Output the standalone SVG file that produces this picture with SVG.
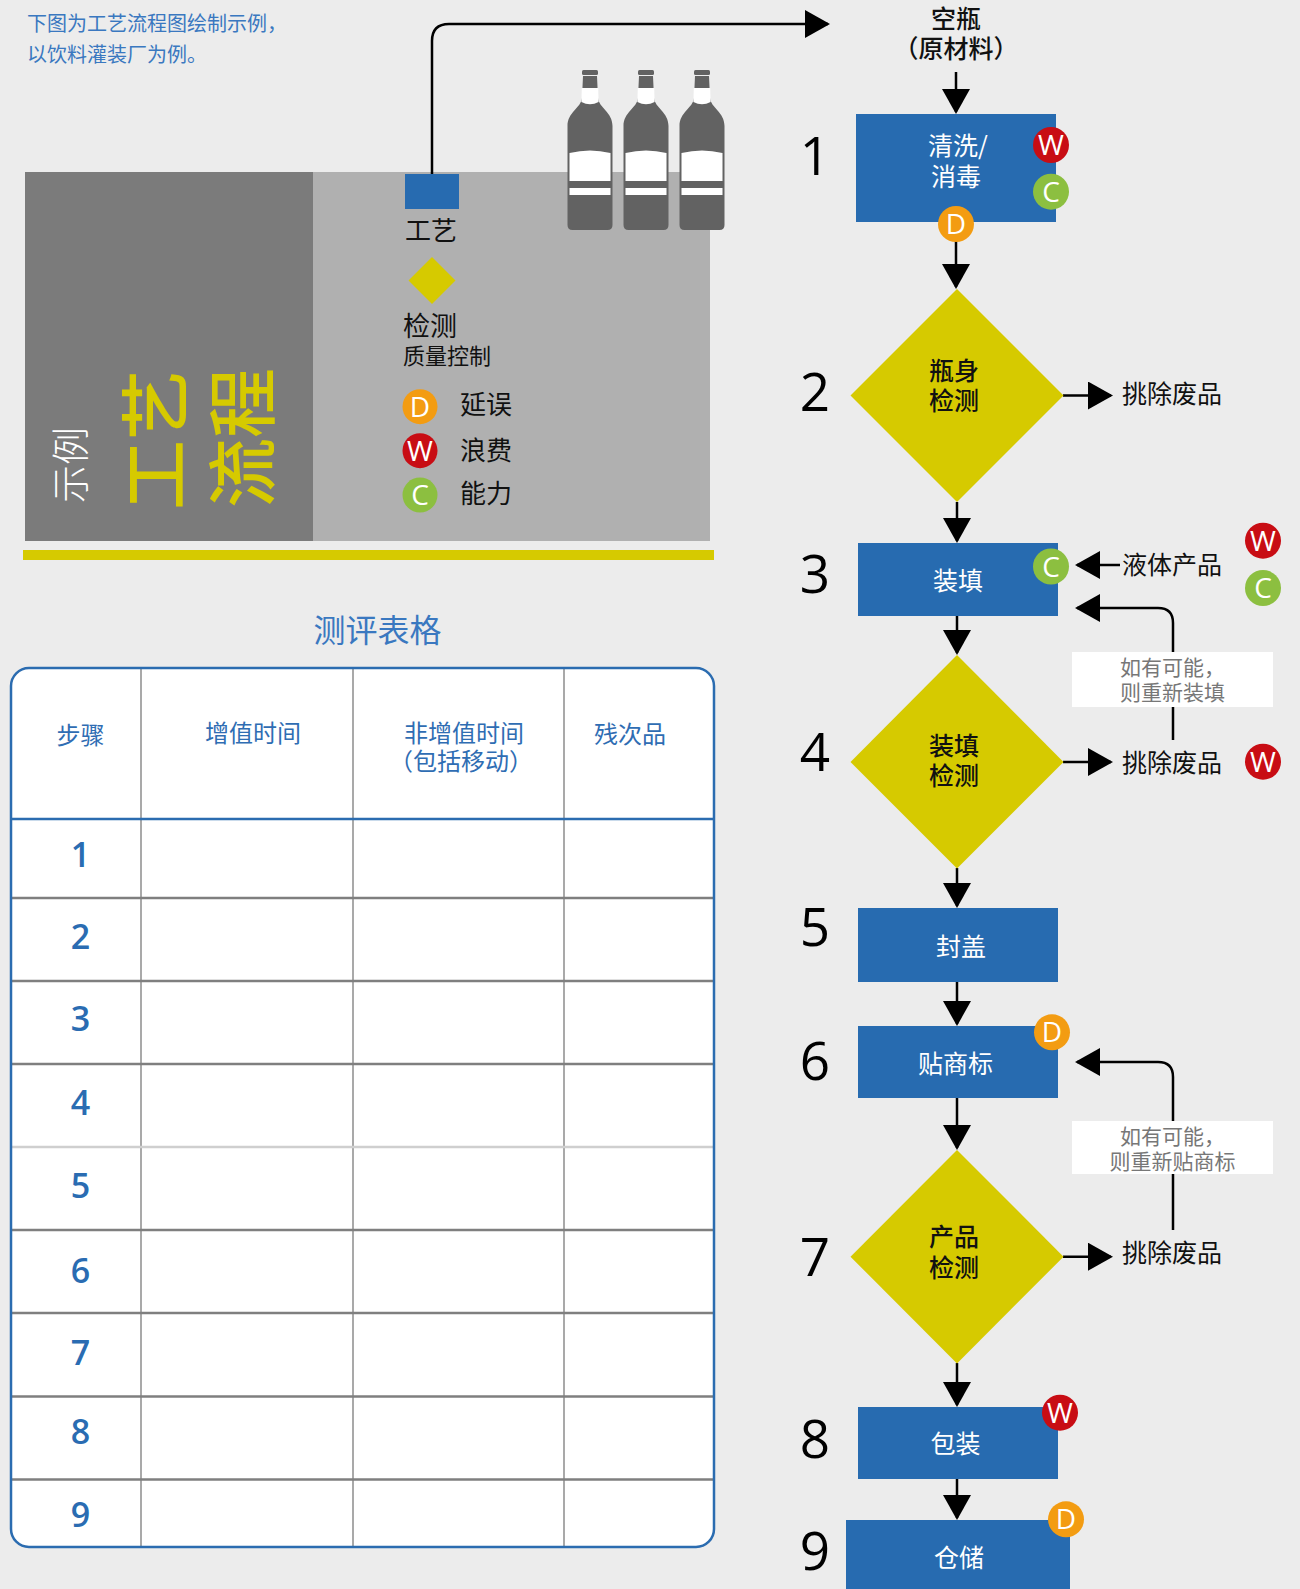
<svg xmlns="http://www.w3.org/2000/svg" width="1300" height="1589" viewBox="0 0 1300 1589">
  <defs>
    <style>
      .cjk{font-family:"Noto Sans CJK SC","Noto Sans",sans-serif}
      .lat{font-family:"Open Sans","Noto Sans",sans-serif}
      .box{fill:#276bb0}
      .dia{fill:#d6ca00}
      .bt{fill:#ffffff;font-size:25px;text-anchor:middle}
      .dt{fill:#111111;font-size:25px;font-weight:500;text-anchor:middle}
      .lbl{fill:#111111;font-size:25px}
      .num{fill:#000000;font-size:53px;text-anchor:middle}
      .conn{fill:none;stroke:#000000;stroke-width:2.5}
      .badge text{fill:#ffffff;font-size:28px;text-anchor:middle}
      .bW{fill:#c80d14}
      .bC{fill:#8cbf40}
      .bD{fill:#f39c12}
      .note-bg{fill:#ffffff}
      .note{fill:#777777;font-size:21px;text-anchor:middle}
      .th{fill:#2f6db3;font-size:24px;text-anchor:middle}
      .rn{fill:#2a6cb2;font-size:34px;font-weight:600;text-anchor:middle}
      .rowline{stroke:#7f7f7f;stroke-width:2.5}
      .colline{stroke:#8c8c8c;stroke-width:1.5}
      .bottle{fill:#626262}
      .blabel{fill:#ffffff}
    </style>
    <marker id="ah" markerUnits="userSpaceOnUse" markerWidth="25" markerHeight="28" refX="23" refY="14" orient="auto">
      <path d="M0,0 L25,14 L0,28 Z" fill="#000000"/>
    </marker>
    <g id="bottle">
      <rect class="bottle" x="582" y="70" width="16" height="5" rx="1.5"/>
      <path class="bottle" d="M583,76 L597,76 L598,98 C599,108 612.5,112 612.5,126 L612.5,225 Q612.5,230 607.5,230 L572.5,230 Q567.5,230 567.5,225 L567.5,126 C567.5,112 581,108 582,98 Z"/>
      <path class="blabel" d="M581.8,88 L598.2,88 L598.6,102 Q590,106.5 581.4,102 Z"/>
      <path class="blabel" d="M569.5,153 Q590,148 610.5,153 L610.5,181 L569.5,181 Z"/>
      <rect class="blabel" x="569.5" y="188" width="41" height="7"/>
    </g>
  </defs>

  <!-- page background -->
  <rect x="0" y="0" width="1300" height="1589" fill="#ececec"/>

  <!-- intro note -->
  <g id="intro" class="cjk" fill="#3a78c0" font-size="20">
    <text x="27" y="31">下图为工艺流程图绘制示例，</text>
    <text x="27" y="62">以饮料灌装厂为例。</text>
  </g>

  <!-- legend panel -->
  <g id="legend">
    <rect x="25" y="172" width="288" height="369" fill="#7b7b7b"/>
    <rect x="313" y="172" width="397" height="369" fill="#b0b0b0"/>
    <rect x="23" y="550" width="691" height="10" fill="#d6ca00"/>
    <text class="cjk" transform="translate(84,503) rotate(-90)" fill="#ffffff" font-size="38" font-weight="300">示例</text>
    <text class="cjk" transform="translate(182,510) rotate(-90)" fill="#d6ca00" font-size="70" font-weight="500">工艺</text>
    <text class="cjk" transform="translate(269,508) rotate(-90)" fill="#d6ca00" font-size="70" font-weight="500">流程</text>
    <rect x="405" y="174" width="54" height="35" fill="#276bb0"/>
    <text class="cjk" x="405" y="240" fill="#111111" font-size="26">工艺</text>
    <polygon class="dia" points="432,257 455.5,280.5 432,304 408.5,280.5"/>
    <text class="cjk" x="403" y="336" fill="#111111" font-size="27">检测</text>
    <text class="cjk" x="403" y="364" fill="#111111" font-size="22">质量控制</text>
    <g class="badge">
      <circle class="bD" cx="420" cy="406.7" r="17.5"/>
      <text class="lat" x="420" y="416.5" font-size="27">D</text>
      <circle class="bW" cx="420" cy="450.7" r="17.5"/>
      <text class="lat" x="420" y="460.5" font-size="27">W</text>
      <circle class="bC" cx="420" cy="495" r="17.5"/>
      <text class="lat" x="420" y="504.8" font-size="27">C</text>
    </g>
    <text class="cjk" x="460" y="414" fill="#111111" font-size="26">延误</text>
    <text class="cjk" x="460" y="460" fill="#111111" font-size="26">浪费</text>
    <text class="cjk" x="460" y="503" fill="#111111" font-size="26">能力</text>
  </g>

  <!-- bottles -->
  <g id="bottles">
    <use href="#bottle"/>
    <use href="#bottle" transform="translate(56,0)"/>
    <use href="#bottle" transform="translate(112,0)"/>
  </g>

  <!-- evaluation table -->
  <g id="table">
    <text class="cjk" x="377.5" y="642" fill="#3a78c0" font-size="32" text-anchor="middle">测评表格</text>
    <rect x="11" y="668" width="703" height="879" rx="18" ry="18" fill="#ffffff"/>
    <line class="colline" x1="141" y1="668" x2="141" y2="1547"/>
    <line class="colline" x1="353" y1="668" x2="353" y2="1547"/>
    <line class="colline" x1="564" y1="668" x2="564" y2="1547"/>
    <line class="rowline" x1="11" y1="898" x2="714" y2="898"/>
    <line class="rowline" x1="11" y1="981" x2="714" y2="981"/>
    <line class="rowline" x1="11" y1="1064" x2="714" y2="1064"/>
    <line x1="11" y1="1147" x2="714" y2="1147" stroke="#cfcfcf" stroke-width="2.5"/>
    <line class="rowline" x1="11" y1="1230" x2="714" y2="1230"/>
    <line class="rowline" x1="11" y1="1313" x2="714" y2="1313"/>
    <line class="rowline" x1="11" y1="1396.5" x2="714" y2="1396.5"/>
    <line class="rowline" x1="11" y1="1479.5" x2="714" y2="1479.5"/>
    <line x1="11" y1="819" x2="714" y2="819" stroke="#2b6cb0" stroke-width="2.5"/>
    <rect x="11" y="668" width="703" height="879" rx="18" ry="18" fill="none" stroke="#2b6cb0" stroke-width="2.5"/>
    <g class="cjk">
      <text class="th" x="80.5" y="744">步骤</text>
      <text class="th" x="253" y="742">增值时间</text>
      <text class="th" x="464" y="742">非增值时间</text>
      <text class="th" x="461" y="770">（包括移动）</text>
      <text class="th" x="630" y="743">残次品</text>
    </g>
    <g class="lat">
      <text class="rn" x="80.5" y="866.5">1</text>
      <text class="rn" x="80.5" y="949">2</text>
      <text class="rn" x="80.5" y="1030.5">3</text>
      <text class="rn" x="80.5" y="1115">4</text>
      <text class="rn" x="80.5" y="1198">5</text>
      <text class="rn" x="80.5" y="1283">6</text>
      <text class="rn" x="80.5" y="1365">7</text>
      <text class="rn" x="80.5" y="1444">8</text>
      <text class="rn" x="80.5" y="1526.5">9</text>
    </g>
  </g>

  <!-- connectors -->
  <g id="connectors" class="conn" marker-end="url(#ah)">
    <path d="M432,174 L432,41 Q432,24 449,24 L828,24"/>
    <path d="M956,72 L956,112"/>
    <path d="M956,222 L956,287"/>
    <path d="M957,502 L957,541"/>
    <path d="M957,616 L957,653"/>
    <path d="M957,868 L957,906"/>
    <path d="M957,982 L957,1024"/>
    <path d="M957,1098 L957,1148"/>
    <path d="M957,1363 L957,1405"/>
    <path d="M957,1479 L957,1518"/>
    <path d="M1063,395.5 L1111,395.5"/>
    <path d="M1063,762 L1111,762"/>
    <path d="M1063,1256.7 L1111,1256.7"/>
    <path d="M1120,565 L1077,565"/>
    <path d="M1173,652 L1173,623 Q1173,608 1158,608 L1077,608"/>
    <path d="M1173,1121 L1173,1077 Q1173,1062 1158,1062 L1077,1062"/>
    <path d="M1173,707 L1173,740" marker-end="none"/>
    <path d="M1173,1174 L1173,1230" marker-end="none"/>
  </g>

  <!-- start: raw material -->
  <g id="n-start" class="cjk">
    <text class="dt" x="956" y="27.5" font-size="24" font-weight="400">空瓶</text>
    <text class="dt" x="956" y="58" font-size="24" font-weight="400">（原材料）</text>
  </g>

  <!-- step 1 -->
  <g id="n1">
    <text class="lat num" x="815" y="175">1</text>
    <rect class="box" x="856" y="114" width="200" height="108"/>
    <text class="cjk bt" x="958" y="155">清洗/</text>
    <text class="cjk bt" x="956" y="186">消毒</text>
    <g class="badge lat">
      <circle class="bW" cx="1051" cy="145" r="18"/><text x="1051" y="155">W</text>
      <circle class="bC" cx="1051" cy="191.7" r="18"/><text x="1051" y="201.7">C</text>
      <circle class="bD" cx="956" cy="224" r="18"/><text x="956" y="234">D</text>
    </g>
  </g>

  <!-- step 2 -->
  <g id="n2">
    <text class="lat num" x="815" y="411">2</text>
    <polygon class="dia" points="957,289 1063.5,395.5 957,502 850.5,395.5"/>
    <text class="cjk dt" x="954" y="380">瓶身</text>
    <text class="cjk dt" x="954" y="410">检测</text>
  </g>
  <g id="n2-reject"><text class="cjk lbl" x="1122" y="403">挑除废品</text></g>

  <!-- step 3 -->
  <g id="n3">
    <text class="lat num" x="815" y="593">3</text>
    <rect class="box" x="858" y="543" width="200" height="73"/>
    <text class="cjk bt" x="958" y="590">装填</text>
    <g class="badge lat">
      <circle class="bC" cx="1051" cy="566.5" r="18"/><text x="1051" y="576.5">C</text>
    </g>
  </g>
  <g id="n3-input">
    <text class="cjk lbl" x="1122" y="573.5">液体产品</text>
    <g class="badge lat">
      <circle class="bW" cx="1263" cy="540.7" r="18"/><text x="1263" y="550.7">W</text>
      <circle class="bC" cx="1263" cy="588" r="18"/><text x="1263" y="598">C</text>
    </g>
  </g>
  <g id="n3-refill">
    <rect class="note-bg" x="1072" y="652" width="201" height="55"/>
    <text class="cjk note" x="1172.5" y="675">如有可能，</text>
    <text class="cjk note" x="1172.5" y="700">则重新装填</text>
  </g>

  <!-- step 4 -->
  <g id="n4">
    <text class="lat num" x="815" y="771">4</text>
    <polygon class="dia" points="957,655 1063.5,762 957,868.5 850.5,762"/>
    <text class="cjk dt" x="954" y="754.5">装填</text>
    <text class="cjk dt" x="954" y="785">检测</text>
  </g>
  <g id="n4-reject">
    <text class="cjk lbl" x="1122" y="771.5">挑除废品</text>
    <g class="badge lat">
      <circle class="bW" cx="1263" cy="761.7" r="18"/><text x="1263" y="771.7">W</text>
    </g>
  </g>

  <!-- step 5 -->
  <g id="n5">
    <text class="lat num" x="815" y="946">5</text>
    <rect class="box" x="858" y="908" width="200" height="74"/>
    <text class="cjk bt" x="961" y="955.5">封盖</text>
  </g>

  <!-- step 6 -->
  <g id="n6">
    <text class="lat num" x="815" y="1080">6</text>
    <rect class="box" x="858" y="1026" width="200" height="72"/>
    <text class="cjk bt" x="955.5" y="1073">贴商标</text>
    <g class="badge lat">
      <circle class="bD" cx="1052" cy="1032.3" r="18"/><text x="1052" y="1042.3">D</text>
    </g>
  </g>
  <g id="n6-relabel">
    <rect class="note-bg" x="1072" y="1121" width="201" height="53"/>
    <text class="cjk note" x="1172.5" y="1143.5">如有可能，</text>
    <text class="cjk note" x="1172.5" y="1168.5">则重新贴商标</text>
  </g>

  <!-- step 7 -->
  <g id="n7">
    <text class="lat num" x="815" y="1276">7</text>
    <polygon class="dia" points="957,1150 1063.5,1256.7 957,1363.4 850.5,1256.7"/>
    <text class="cjk dt" x="954" y="1245.5">产品</text>
    <text class="cjk dt" x="954" y="1276.5">检测</text>
  </g>
  <g id="n7-reject"><text class="cjk lbl" x="1122" y="1261.5">挑除废品</text></g>

  <!-- step 8 -->
  <g id="n8">
    <text class="lat num" x="815" y="1458">8</text>
    <rect class="box" x="858" y="1407" width="200" height="72"/>
    <text class="cjk bt" x="955.5" y="1453">包装</text>
    <g class="badge lat">
      <circle class="bW" cx="1060" cy="1412.7" r="18"/><text x="1060" y="1422.7">W</text>
    </g>
  </g>

  <!-- step 9 -->
  <g id="n9">
    <text class="lat num" x="815" y="1570">9</text>
    <rect class="box" x="846" y="1520" width="224" height="80"/>
    <text class="cjk bt" x="959" y="1566.5">仓储</text>
    <g class="badge lat">
      <circle class="bD" cx="1066" cy="1519.3" r="18"/><text x="1066" y="1529.3">D</text>
    </g>
  </g>
</svg>
